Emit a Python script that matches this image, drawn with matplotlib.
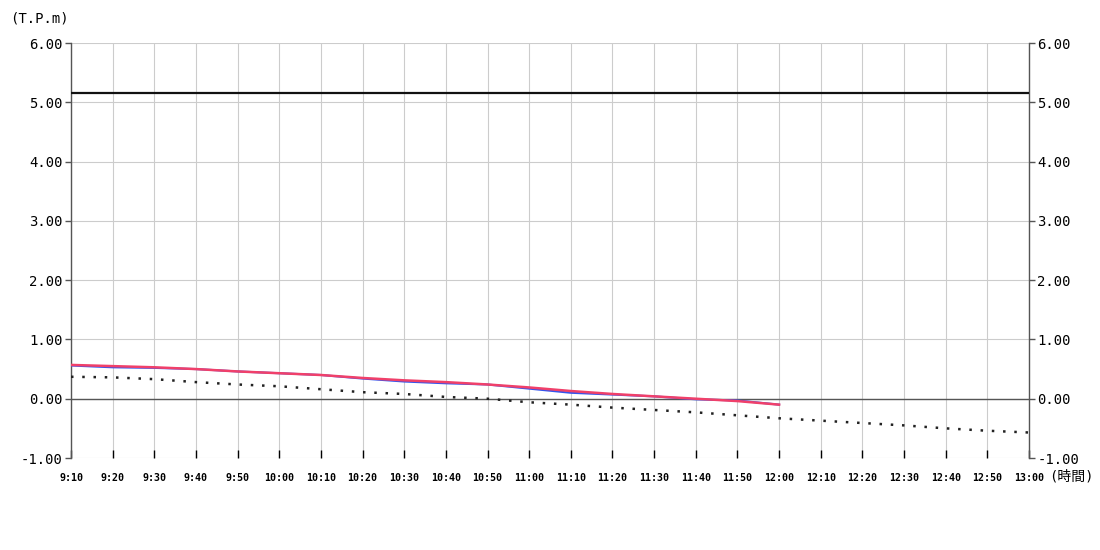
import matplotlib
matplotlib.use("Agg")
import matplotlib.pyplot as plt
import numpy as np

plt.rcParams['font.family'] = ['DejaVu Sans Mono', 'Noto Sans CJK JP']

time_labels = ["9:10", "9:20", "9:30", "9:40", "9:50", "10:00", "10:10", "10:20",
               "10:30", "10:40", "10:50", "11:00", "11:10", "11:20", "11:30", "11:40",
               "11:50", "12:00", "12:10", "12:20", "12:30", "12:40", "12:50", "13:00"]

observed_red = [0.57, 0.55, 0.53, 0.50, 0.46, 0.43, 0.40, 0.35, 0.31, 0.28, 0.24,
                0.19, 0.13, 0.08, 0.04, 0.00, -0.04, -0.10]
observed_blue = [0.56, 0.53, 0.52, 0.50, 0.46, 0.43, 0.40, 0.34, 0.29, 0.26, 0.24,
                 0.17, 0.10, 0.07, 0.04, -0.01, -0.03, -0.10]
predicted = [0.37, 0.36, 0.33, 0.28, 0.24, 0.21, 0.16, 0.11, 0.08, 0.03, 0.00,
             -0.06, -0.10, -0.15, -0.19, -0.23, -0.28, -0.33, -0.37, -0.41, -0.45,
             -0.50, -0.54, -0.57]
reference_level = 5.16

y_ticks = [-1, 0, 1, 2, 3, 4, 5, 6]

fig = plt.figure(figsize=(11, 5.5), dpi=100)
ax = fig.add_axes([71/1100, 1 - 458/550, (1029 - 71)/1100, (458 - 43)/550])

x_all = np.arange(len(time_labels))
ax.set_xlim(0, len(time_labels) - 1)
ax.set_ylim(-1, 6)

# grid
for xv in x_all:
    ax.axvline(xv, color='#cccccc', lw=0.8, zorder=0)
for yv in y_ticks:
    ax.axhline(yv, color='#cccccc', lw=0.8, zorder=0)
ax.axhline(0, color='#555555', lw=1.0, zorder=1)

ax.axhline(reference_level, color='#111111', lw=1.6, zorder=3)
ax.plot(x_all[:len(observed_blue)], observed_blue, color='#3355ee', lw=1.5, zorder=4)
ax.plot(x_all[:len(observed_red)], observed_red, color='#f0406a', lw=1.8, zorder=5)
ax.plot(x_all, predicted, color='#222222', lw=1.8, linestyle=(0, (1, 3.5)), zorder=3)

for s in ['top', 'bottom']:
    ax.spines[s].set_visible(False)
for s in ['left', 'right']:
    ax.spines[s].set_color('#555555')
    ax.spines[s].set_linewidth(1.0)

ax.set_xticks(x_all)
ax.set_xticklabels(time_labels, fontsize=7.2, fontweight='bold')
ax.tick_params(axis='x', direction='in', length=6, width=1, color='black', pad=11)
ax.set_yticks(y_ticks)
ax.set_yticklabels([f"{v:.2f}" for v in y_ticks], fontsize=10)
ax.tick_params(axis='y', direction='out', length=4, width=1, color='#555555',
               left=True, right=True, labelleft=True, labelright=True, pad=2)

fig.text(10/1100, 1 - 19/550, "(T.P.m)", fontsize=10, va='center', ha='left')
fig.text(1049/1100, 1 - 477/550, "(時間)", fontsize=10, va='center', ha='left')

fig.savefig("out.png", dpi=100)
